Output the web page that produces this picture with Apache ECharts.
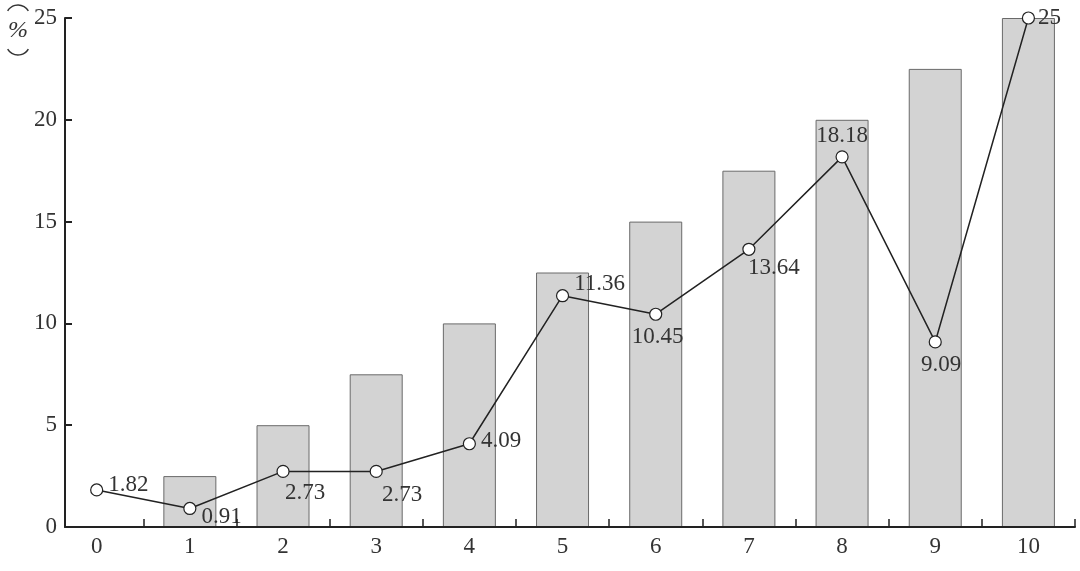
<!DOCTYPE html>
<html>
<head>
<meta charset="utf-8">
<script src="https://cdn.jsdelivr.net/npm/echarts@6/dist/echarts.min.js"></script>
<style>html,body{margin:0;padding:0;background:#fff}#c{width:1080px;height:571px}</style>
</head>
<body>
<div id="c"></div>
<script>
const categories = [0, 1, 2, 3, 4, 5, 6, 7, 8, 9, 10];
const barValues = [0, 2.5, 5, 7.5, 10, 12.5, 15, 17.5, 20, 22.5, 25];
const lineValues = [1.82, 0.91, 2.73, 2.73, 4.09, 11.36, 10.45, 13.64, 18.18, 9.09, 25];
const yTicks = [0, 5, 10, 15, 20, 25];

// label placement styles (per point)
const labelStyles = [
  {position: 'right', offset: [0, -5]},
  {position: 'right', offset: [0, 8]},
  {position: 'bottom', offset: [22, -2]},
  {position: 'bottom', offset: [26, 0]},
  {position: 'right', offset: [0, -3]},
  {position: 'right', offset: [0, -12]},
  {position: 'bottom', offset: [2, 0]},
  {position: 'bottom', offset: [25, -4]},
  {position: 'top', offset: [0, 2]},
  {position: 'bottom', offset: [6, 0]},
  {position: 'right', offset: [-2, 0]}
];

const FONT = 'Liberation Serif';
const arcLine = {stroke: '#333', lineWidth: 1.5, fill: null};
const chart = echarts.init(document.getElementById('c'));
chart.setOption({
  animation: false,
  backgroundColor: '#fff',
  graphic: [
    {type: 'arc', shape: {cx: 18, cy: 17, r: 12, startAngle: 1.5 * Math.PI - 1.04, endAngle: 1.5 * Math.PI + 1.04}, style: arcLine},
    {type: 'text', x: 18, y: 31, style: {text: '%', fontFamily: FONT, fontStyle: 'italic', fontSize: 24, fill: '#333', align: 'center', verticalAlign: 'middle'}},
    {type: 'arc', shape: {cx: 18, cy: 43, r: 12, startAngle: 0.5 * Math.PI - 1.04, endAngle: 0.5 * Math.PI + 1.04}, style: arcLine}
  ],
  grid: {left: 65, right: 5, top: 18, bottom: 44},
  xAxis: {
    type: 'value',
    min: -0.34, max: 10.5,
    splitLine: {show: false},
    axisLine: {show: true, onZero: false, lineStyle: {color: '#222', width: 2}},
    axisTick: {show: true, inside: true, length: 8, lineStyle: {color: '#222', width: 1.5},
      customValues: categories.map(c => c + 0.5)},
    axisLabel: {customValues: categories, color: '#333', fontFamily: FONT, fontSize: 23, margin: 8,
      formatter: v => String(Math.round(v))},
    z: 5
  },
  yAxis: {
    type: 'value',
    min: 0, max: 25, interval: 5,
    splitLine: {show: false},
    axisLine: {show: true, onZero: false, lineStyle: {color: '#222', width: 2}},
    axisTick: {show: true, inside: true, length: 7, lineStyle: {color: '#222', width: 2}},
    axisLabel: {color: '#333', fontFamily: FONT, fontSize: 23, margin: 8,
      customValues: yTicks}
  },
  series: [
    {
      type: 'bar',
      data: categories.map((c, i) => ({
        value: [c, barValues[i]],
        itemStyle: barValues[i] === 0 ? {borderWidth: 0} : undefined
      })),
      barWidth: 53,
      itemStyle: {color: '#d3d3d3', borderColor: '#6a6a6a', borderWidth: 1},
      z: 1
    },
    {
      type: 'line',
      data: categories.map((c, i) => ({
        value: [c, lineValues[i]],
        label: Object.assign({show: true}, labelStyles[i])
      })),
      symbol: 'circle',
      symbolSize: 12,
      lineStyle: {color: '#222', width: 1.5},
      itemStyle: {color: '#fff', borderColor: '#222', borderWidth: 1.2},
      label: {show: true, color: '#333', fontFamily: FONT, fontSize: 23,
        formatter: p => String(p.value[1])},
      z: 3
    }
  ]
});
</script>
</body>
</html>
